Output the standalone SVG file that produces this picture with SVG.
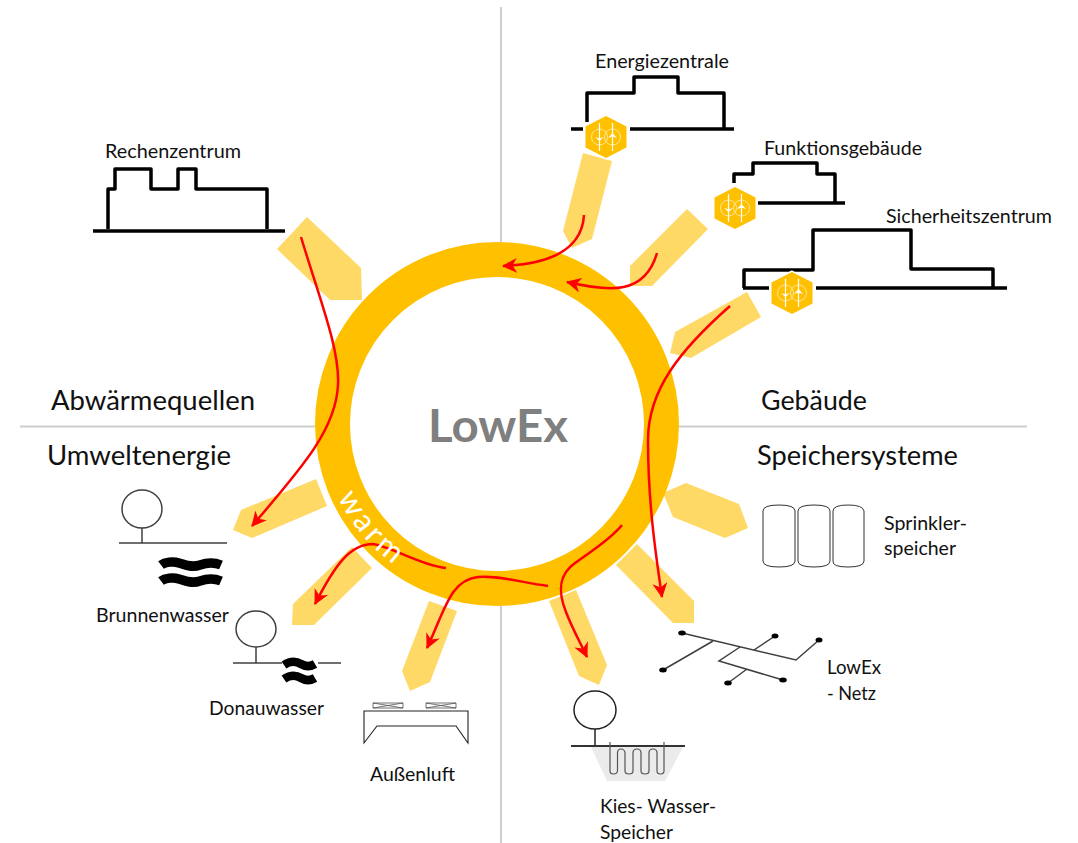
<svg xmlns="http://www.w3.org/2000/svg" xmlns:xlink="http://www.w3.org/1999/xlink" width="1078" height="843" viewBox="0 0 1078 843">
<style>
text{font-family:"Lato","Liberation Sans",sans-serif;fill:#111}
.lbl{font-size:18.500px}
.hd{font-size:26px}
.div{stroke:#D0CECE;stroke-width:2;fill:none}
.pad{fill:#FFD966}
.bld{fill:none;stroke:#000;stroke-width:3.5;stroke-linejoin:round}
.thin{fill:none;stroke:#404040;stroke-width:1.5}
.flow{fill:none;stroke:#FF0000;stroke-width:2.500;marker-end:url(#ah)}
.wave{fill:none;stroke:#000;stroke-width:9.500}
.hi{fill:none;stroke:#FFE699;stroke-width:1}
.hl{fill:none;stroke:#fff;stroke-width:1.2}
</style>
<defs>
<marker id="ah" markerUnits="userSpaceOnUse" markerWidth="18" markerHeight="16" refX="14" refY="7.500" orient="auto">
<path d="M0 0L15 7.500L0 15L4.500 7.500Z" fill="#FF0000"/>
</marker>
<g id="hex">
<polygon points="0,-21 20.5,-10.5 20.5,10.5 0,21 -20.5,10.5 -20.5,-10.5" fill="#FFC000" stroke="#fff" stroke-width="3" paint-order="stroke"/>
<circle cx="-6.5" cy="0" r="8" class="hi"/><circle cx="6.5" cy="0" r="8" class="hi"/>
<path class="hl" d="M-6.5 -14V14M6.5 -14V14"/>
<path d="M-11 0L-6.5 4L-2 0L-6.5 1.5Z" fill="#fff"/>
<path d="M2 1L6.5 -4L11 1L6.5 -.5Z" fill="#fff"/>
</g>
<g id="fan">
<path d="M0 0H30V5H0ZM0 0L30 5M0 5L30 0" fill="none" stroke="#505050" stroke-width=".8"/>
</g>
<path id="warm-arc" d="M338 497A173.500 173.500 0 0 0 420 580"/>
</defs>
<g id="dividers">
<path class="div" d="M501 7V846M20 426.500H1027"/>
</g>
<g id="pads">
<polygon class="pad" points="583,153 612,161 592,239 572,248 563,231"/>
<polygon class="pad" points="687,209 708,229 652,286 630,286 630,266"/>
<polygon class="pad" points="747,292 761,317 691,358 670,353 675,332"/>
<polygon class="pad" points="307,217 277,249 330,300 362,300 361,268"/>
<polygon class="pad" points="316,479 327,506 252,538 233,530 241,510"/>
<polygon class="pad" points="352,547 372,568 314,625 292,625 293,604"/>
<polygon class="pad" points="429,601 457,611 430,682 410,691 402,671"/>
<polygon class="pad" points="686,483 739,504 748,528 725,538 673,517 663,493"/>
<polygon class="pad" points="637,544 694,601 694,623 673,623 616,565"/>
<polygon class="pad" points="576,590 607,665 599,685 579,676 549,601"/>
</g>
<g id="ring">
<circle cx="497" cy="424" r="164.500" fill="#fff" stroke="#FFC000" stroke-width="35"/>
<text x="428" y="442" font-size="46" font-weight="700" style="fill:#7F7F7F" textLength="140" lengthAdjust="spacingAndGlyphs">LowEx</text>
</g>
<g id="node-rechenzentrum">
<path class="bld" d="M108 229V189H115V169H151V189H178V169H196V189H267V229"/>
<path class="bld" d="M93 231H285"/>
<text class="lbl" x="105" y="158" textLength="136" lengthAdjust="spacingAndGlyphs">Rechenzentrum</text>
</g>
<g id="node-energiezentrale">
<path class="bld" d="M587 122V93H634V77H678V93H724V128"/>
<path class="bld" d="M571 129H583M630 129H734"/>
<use href="#hex" x="606" y="137"/>
<text class="lbl" x="595" y="68" textLength="134" lengthAdjust="spacingAndGlyphs">Energiezentrale</text>
</g>
<g id="node-funktionsgebaeude">
<path class="bld" d="M734 183V174H753V163H817V174H835V203"/>
<path class="bld" d="M758 203H845"/>
<use href="#hex" x="735" y="208"/>
<text class="lbl" x="764" y="155" textLength="158" lengthAdjust="spacingAndGlyphs">Funktionsgebäude</text>
</g>
<g id="node-sicherheitszentrum">
<path class="bld" d="M744 288V270H813V230H911V269H993V288"/>
<path class="bld" d="M743 288H769M816 288H1007"/>
<use href="#hex" x="792" y="293"/>
<text class="lbl" x="886" y="223" textLength="166" lengthAdjust="spacingAndGlyphs">Sicherheitszentrum</text>
</g>
<g id="node-brunnenwasser">
<ellipse class="thin" cx="142" cy="509" rx="20" ry="19"/>
<path class="thin" d="M142 528V543M119 543H227"/>
<path class="wave" d="M161 565C165 562 173 561 179 563S192 568 200 565S214 562 221 565"/>
<path class="wave" d="M161 581C165 578 173 577 179 579S192 584 200 581S214 578 221 581"/>
<text class="lbl" x="96" y="622" textLength="133" lengthAdjust="spacingAndGlyphs">Brunnenwasser</text>
</g>
<g id="node-donauwasser">
<ellipse class="thin" cx="256" cy="629" rx="20" ry="18"/>
<path class="thin" d="M256 647V663M233 663H282M318 663H341"/>
<path class="wave" d="M284 665C290 661 296 661 301 664S310 667 315 664" style="stroke-width:8.500"/>
<path class="wave" d="M284 679C290 675 296 675 301 678S310 681 315 678" style="stroke-width:8.500"/>
<text class="lbl" x="209" y="715" textLength="115" lengthAdjust="spacingAndGlyphs">Donauwasser</text>
</g>
<g id="node-aussenluft">
<path d="M364 743V711H468V743L456 726H377Z" fill="none" stroke="#222" stroke-width="1.100"/>
<use href="#fan" x="373" y="703"/>
<use href="#fan" x="426" y="703"/>
<text class="lbl" x="370" y="781" textLength="85" lengthAdjust="spacingAndGlyphs">Außenluft</text>
</g>
<g id="node-sprinklerspeicher">
<g fill="none" stroke="#333" stroke-width="1">
<path d="M763 511Q763 505 779 505T795 511V561Q795 567 779 567T763 561Z"/>
<path d="M798 511Q798 505 814 505T830 511V561Q830 567 814 567T798 561Z"/>
<path d="M833 511Q833 505 848 505T864 511V561Q864 567 848 567T833 561Z"/>
</g>
<text class="lbl" x="884" y="530" textLength="83" lengthAdjust="spacingAndGlyphs">Sprinkler-</text>
<text class="lbl" x="884" y="555" textLength="72" lengthAdjust="spacingAndGlyphs">speicher</text>
</g>
<g id="node-lowex-netz">
<path class="thin" d="M682 633L796 660L819 640M663 670L713 641M775 636L754 650M740 647L719 661L783 680M728 683L747 669"/>
<g fill="#000">
<ellipse cx="682" cy="633" rx="3.800" ry="2.500"/><ellipse cx="775" cy="636" rx="3.500" ry="2.500"/><ellipse cx="819" cy="640" rx="3.500" ry="2.500"/><ellipse cx="663" cy="670" rx="3.800" ry="2.500"/><ellipse cx="728" cy="683" rx="3.800" ry="2.500"/><ellipse cx="783" cy="680" rx="3.800" ry="2.500"/>
</g>
<text class="lbl" x="827" y="674" textLength="54" lengthAdjust="spacingAndGlyphs">LowEx</text>
<text class="lbl" x="827" y="700" textLength="49" lengthAdjust="spacingAndGlyphs">- Netz</text>
</g>
<g id="node-kies-wasser-speicher">
<polygon points="591,747 683,747 665,781 607,781" fill="#EBEBEB"/>
<ellipse class="thin" cx="595" cy="710" rx="21" ry="19" style="stroke:#222"/>
<path class="thin" d="M595 729V746" style="stroke:#222"/>
<path d="M571 746H685" fill="none" stroke="#333" stroke-width="2"/>
<path d="M610 742V771Q610 774 613.500 774T617.500 771V753Q617.500 749 621 749T625 753V771Q625 774 629 774T633 771V753Q633 749 637 749T641 753V771Q641 774 645 774T649 771V753Q649 749 653 749T657 753V771Q657 774 660.500 774T664 771V742" fill="none" stroke="#555" stroke-width="1.200"/>
<text class="lbl" x="600" y="813" textLength="116" lengthAdjust="spacingAndGlyphs">Kies- Wasser-</text>
<text class="lbl" x="600" y="839" textLength="73" lengthAdjust="spacingAndGlyphs">Speicher</text>
</g>
<g id="connectors">
<path class="flow" d="M584 215C582 250 550 264 503 266"/>
<path class="flow" d="M657 253C645 295 610 292 567 282"/>
<path class="flow" d="M730 306C680 350 648 390 648 440C648 500 655 550 662 597"/>
<path class="flow" d="M622 525C610 540 590 552 575 563C558 575 558 592 566 612C572 628 580 642 587 657"/>
<path class="flow" d="M548 586C520 582 495 575 478 577C450 580 445 610 427 648"/>
<path class="flow" d="M446 568C420 565 395 548 373 544C350 544 335 565 315 604"/>
<path class="flow" d="M301 237C320 300 340 350 338 385C336 430 300 470 252 526"/>
</g>
<g id="labels">
<text class="hd" x="51" y="410" textLength="204" lengthAdjust="spacingAndGlyphs">Abwärmequellen</text>
<text class="hd" x="761" y="410" textLength="106" lengthAdjust="spacingAndGlyphs">Gebäude</text>
<text class="hd" x="47" y="465" textLength="184" lengthAdjust="spacingAndGlyphs">Umweltenergie</text>
<text class="hd" x="757" y="465" textLength="201" lengthAdjust="spacingAndGlyphs">Speichersysteme</text>
<text font-size="31" style="fill:#fff"><textPath href="#warm-arc" textLength="88" lengthAdjust="spacing">warm</textPath></text>
</g>
</svg>
